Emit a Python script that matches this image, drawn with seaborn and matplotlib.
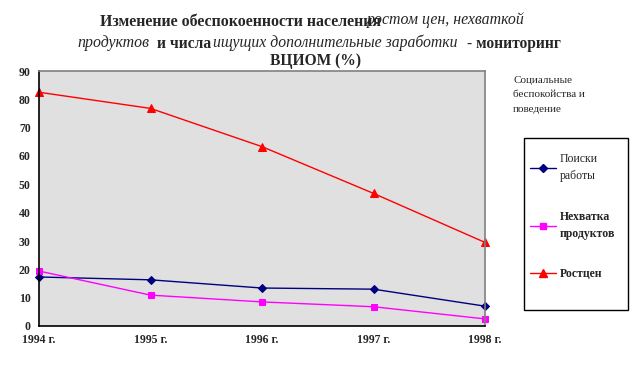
import pandas as pd
import numpy as np
import matplotlib
matplotlib.use("Agg")
import matplotlib.pyplot as plt
import seaborn as sns
from matplotlib.lines import Line2D
from matplotlib.patches import Rectangle

# data
years = ["1994 г.", "1995 г.", "1996 г.", "1997 г.", "1998 г."]
poiski = [17.3, 16.3, 13.4, 13.0, 7.0]
nehvatka = [19.4, 10.9, 8.5, 6.8, 2.5]
rost_cen = [82.5, 76.8, 63.3, 46.8, 29.5]

series_names = ["Поиски\nработы", "Нехватка\nпродуктов", "Ростцен"]
colors = ["#000080", "#FF00FF", "#FF0000"]
markers = ["D", "s", "^"]

df = pd.DataFrame({"year": years * 3,
                   "pos": list(range(len(years))) * 3,
                   "value": poiski + nehvatka + rost_cen,
                   "series": sum([[n] * len(years) for n in series_names], [])})

sns.set_style("white")
plt.rcParams["font.family"] = ["Liberation Serif", "DejaVu Serif"]

fig = plt.figure(figsize=(6.37, 3.66), dpi=100)
ax = fig.add_axes([39 / 637, 1 - 326 / 366, (485 - 39) / 637, (326 - 71) / 366])
ax.set_facecolor("#e0e0e0")

msizes = [4.5, 5, 5.5]
for name, c, m, ms in zip(series_names, colors, markers, msizes):
    sub = df[df["series"] == name]
    sns.lineplot(data=sub, x="pos", y="value", color=c, marker=m, markersize=ms,
                 markeredgecolor=c, linewidth=1, ax=ax, legend=False, clip_on=False)

ax.set_xlim(0, 4)
ax.set_ylim(0, 90)
ax.set_xticks(range(len(years)))
ax.set_xticklabels(years, fontsize=8.5, fontweight="bold")
ax.set_yticks(range(0, 91, 10))
ax.set_yticklabels([str(v) for v in range(0, 91, 10)], fontsize=8.5, fontweight="bold")
ax.tick_params(axis="both", direction="out", length=4, width=1, color="black", pad=2)
ax.set_xlabel("")
ax.set_ylabel("")
for s in ["left", "bottom"]:
    ax.spines[s].set_color("black")
    ax.spines[s].set_linewidth(1.2)
for s in ["top", "right"]:
    ax.spines[s].set_color("#808080")
    ax.spines[s].set_linewidth(1.2)

# title pieces
def px(x, y):
    return x / 637, 1 - y / 366

fig.text(*px(100, 22), "Изменение обеспокоенности населения", fontsize=11.4,
         fontweight="bold", va="center", ha="left")
fig.text(*px(367, 20), "ростом цен, нехваткой", fontsize=11.4, style="italic",
         va="center", ha="left")
fig.text(*px(77, 43), "продуктов", fontsize=11.4, style="italic", va="center", ha="left")
fig.text(*px(157, 44), "и числа", fontsize=11.2, fontweight="bold", va="center", ha="left")
fig.text(*px(213, 43), "ищущих дополнительные заработки", fontsize=11.3, style="italic",
         va="center", ha="left")
fig.text(*px(467, 44), "- мониторинг", fontsize=11.2, fontweight="bold", va="center", ha="left")
fig.text(*px(315, 61), "ВЦИОМ (%)", fontsize=11.2, fontweight="bold", va="center", ha="center")

fig.text(*px(513, 76), "Социальные\nбеспокойства и\nповедение", fontsize=8,
         va="top", ha="left", linespacing=1.75)

# legend box
fig.add_artist(Rectangle(px(524, 310), 104 / 637, 172 / 366, transform=fig.transFigure,
                         facecolor="white", edgecolor="black", linewidth=1))
handles = [Line2D([0], [0], color=c, marker=m, markersize=ms, linewidth=1)
           for c, m, ms in zip(colors, markers, msizes)]
leg = fig.legend(handles, series_names, loc="upper left",
                 bbox_to_anchor=px(530, 153), frameon=False,
                 fontsize=8.5, labelspacing=2.4, handlelength=2.2, handletextpad=0.3,
                 borderpad=0, borderaxespad=0)
texts = leg.get_texts()
for t in texts:
    t.set_linespacing(1.6)
texts[1].set_fontweight("bold")
texts[2].set_fontweight("bold")

fig.savefig("out.png", dpi=100)
